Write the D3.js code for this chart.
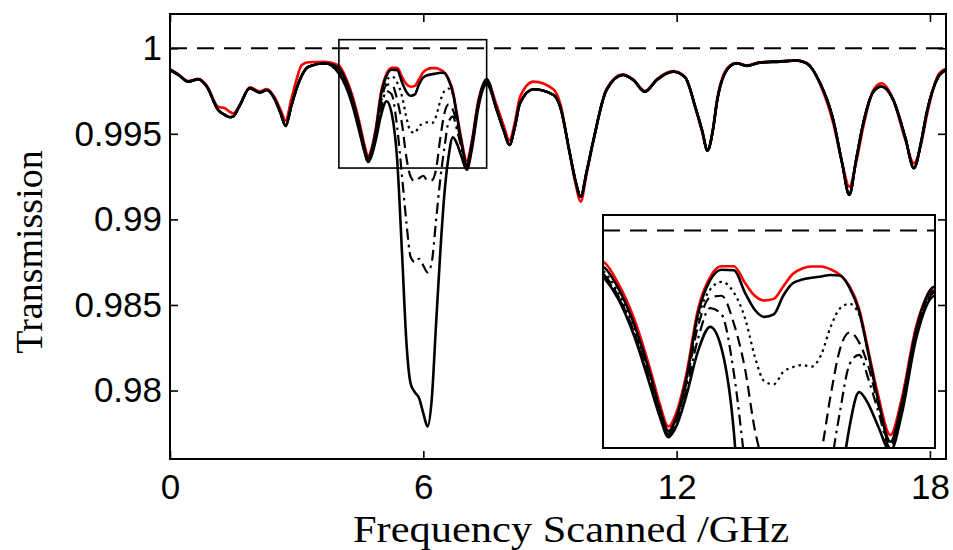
<!DOCTYPE html>
<html>
<head>
<meta charset="utf-8">
<script src="https://cdn.jsdelivr.net/npm/d3@7"></script>
<style>
body { margin: 0; background: #fff; }
</style>
</head>
<body>
<svg id="chart" width="953" height="550"></svg>
<script>
// Transmission scan data

// frequencies (GHz) outside the zoomed window
var freq = [0, 0.2, 0.43, 0.67, 0.87, 1.14, 1.3, 1.42, 1.5, 1.66,
    1.89, 2.13, 2.29, 2.49, 2.62, 2.74, 2.87, 3.0, 3.12, 3.28, 3.67,
    7.74, 7.9, 8.04, 8.17, 8.29, 8.61, 9.08, 9.24, 9.47, 9.6,
    9.73, 9.86, 10.03, 10.34, 10.73, 10.97, 11.25, 11.53, 11.92, 12.2,
    12.45, 12.6, 12.73, 12.86, 12.95, 13.22, 13.42, 13.66, 13.97, 14.45,
    14.84, 15.08, 15.4, 15.71, 15.92, 16.09, 16.25, 16.42, 16.66, 16.85,
    17.13, 17.41, 17.62, 17.8, 17.92, 18.2, 18.38];

// black traces share this outside the window
var baseTrace = [0.99873, 0.99844, 0.99805, 0.99819, 0.99776, 0.99639, 0.99610, 0.99597, 0.99602, 0.99669,
    0.99766, 0.99741, 0.99756, 0.99698, 0.99620, 0.99546, 0.99659, 0.99766, 0.99840, 0.99892, 0.99912,
    0.99639, 0.99523, 0.99435, 0.99542, 0.99679, 0.99760, 0.99727, 0.99659, 0.99386, 0.99230,
    0.99133, 0.99270, 0.99464, 0.99756, 0.99844, 0.99815, 0.99746, 0.99815, 0.99863, 0.99830,
    0.99650, 0.99523, 0.99402, 0.99523, 0.99679, 0.99883, 0.99912, 0.99897, 0.99916, 0.99922,
    0.99928, 0.99912, 0.99795, 0.99581, 0.99328, 0.99143, 0.99347, 0.99562, 0.99746, 0.99776,
    0.99698, 0.99483, 0.99299, 0.99464, 0.99620, 0.99834, 0.99873];

// red reference trace outside the window
var refTrace = [0.99878, 0.99848, 0.99808, 0.99822, 0.99782, 0.99658, 0.99649, 0.99628, 0.99620, 0.99672,
    0.99772, 0.99748, 0.99762, 0.99708, 0.99640, 0.99578, 0.99700, 0.99820, 0.99902, 0.99918, 0.99920,
    0.99665, 0.99550, 0.99462, 0.99570, 0.99715, 0.99805, 0.99760, 0.99680, 0.99380, 0.99215,
    0.99104, 0.99255, 0.99460, 0.99762, 0.99848, 0.99818, 0.99750, 0.99818, 0.99866, 0.99832,
    0.99645, 0.99515, 0.99410, 0.99530, 0.99690, 0.99890, 0.99914, 0.99900, 0.99918, 0.99924,
    0.99929, 0.99914, 0.99790, 0.99560, 0.99330, 0.99191, 0.99330, 0.99540, 0.99755, 0.99795,
    0.99700, 0.99470, 0.99328, 0.99450, 0.99600, 0.99845, 0.99880];

// zoomed window 4 - 7.5 GHz
var winFreq = [4.0, 4.16, 4.32, 4.5, 4.6, 4.69, 4.78, 4.88, 5.0, 5.13,
    5.25, 5.38, 5.5, 5.6, 5.7, 5.8, 5.9, 6.0, 6.1, 6.2,
    6.3, 6.4, 6.5, 6.6, 6.7, 6.8, 6.9, 7.03, 7.15, 7.3, 7.5];

var winRef = [0.99900, 0.99830, 0.99723, 0.99551, 0.99440, 0.99369, 0.99420, 0.99540, 0.99744, 0.99851,
    0.99885, 0.99885, 0.99830, 0.99790, 0.99775, 0.99780, 0.99820, 0.99860, 0.99878, 0.99884,
    0.99884, 0.99875, 0.99857, 0.99820, 0.99748, 0.99610, 0.99470, 0.99342, 0.99460, 0.99690, 0.99809];

var winSolidA = [0.99884, 0.99815, 0.99705, 0.99535, 0.99425, 0.99355, 0.99405, 0.99525, 0.99730, 0.99840,
    0.99874, 0.99872, 0.99798, 0.99745, 0.99722, 0.99730, 0.99790, 0.99830, 0.99842, 0.99848,
    0.99852, 0.99857, 0.99855, 0.99815, 0.99740, 0.99600, 0.99455, 0.99320, 0.99445, 0.99680, 0.99820];

var winDotted = [0.99870, 0.99800, 0.99690, 0.99525, 0.99415, 0.99350, 0.99400, 0.99520, 0.99715, 0.99810,
    0.99835, 0.99800, 0.99715, 0.99595, 0.99515, 0.99505, 0.99545, 0.99560, 0.99567, 0.99562,
    0.99600, 0.99690, 0.99750, 0.99764, 0.99730, 0.99600, 0.99450, 0.99315, 0.99440, 0.99675, 0.99815];

var winDashed = [0.99862, 0.99790, 0.99680, 0.99515, 0.99410, 0.99345, 0.99395, 0.99510, 0.99690, 0.99785,
    0.99790, 0.99700, 0.99550, 0.99360, 0.99250, 0.99222, 0.99240, 0.99255, 0.99225, 0.99228,
    0.99290, 0.99470, 0.99620, 0.99672, 0.99640, 0.99560, 0.99440, 0.99310, 0.99430, 0.99665, 0.99805];

var winDashDot = [0.99858, 0.99785, 0.99675, 0.99505, 0.99405, 0.99340, 0.99385, 0.99490, 0.99650, 0.99750,
    0.99730, 0.99540, 0.99240, 0.98980, 0.98780, 0.98750, 0.98770, 0.98730, 0.98690, 0.98750,
    0.98990, 0.99230, 0.99420, 0.99570, 0.99600, 0.99520, 0.99420, 0.99300, 0.99420, 0.99660, 0.99800];

var winSolidB = [0.99852, 0.99780, 0.99668, 0.99498, 0.99400, 0.99335, 0.99375, 0.99470, 0.99610, 0.99690,
    0.99620, 0.99350, 0.98780, 0.98280, 0.98040, 0.97990, 0.97955, 0.97867, 0.97790, 0.97950,
    0.98380, 0.98800, 0.99150, 0.99370, 0.99480, 0.99440, 0.99370, 0.99290, 0.99410, 0.99650, 0.99790];

var xTicks = [0, 6, 12, 18];
var yTicks = [0.98, 0.985, 0.99, 0.995, 1];
var yTickLabels = ["0.98", "0.985", "0.99", "0.995", "1"];
var xDomain = [0, 18.38];
var yDomain = [0.976, 1.002];
var zoomFreq = [4, 7.5];
var zoomTrans = [0.993, 1.0005];
var unity = 1;


(function(d3) {

    var svg = d3.select("#chart");

    var plot = { left: 170, right: 946, top: 14, bottom: 459 };
    var inset = { left: 603, right: 935, top: 215, bottom: 448 };

    var x = d3.scaleLinear().domain(xDomain).range([plot.left, plot.right]);
    var y = d3.scaleLinear().domain(yDomain).range([plot.bottom, plot.top]);

    var xi = d3.scaleLinear().domain(zoomFreq).range([inset.left, inset.right]);
    var yi = d3.scaleLinear().domain(zoomTrans).range([inset.bottom, inset.top]);

    // stitch window values into the shared outside part
    var buildSeries = function(outside, win) {
        var pts = freq.map(function(f, i) { return { f: f, v: outside[i] }; });
        win.forEach(function(v, i) { pts.push({ f: winFreq[i], v: v }); });
        return pts.sort(function(a, b) { return a.f - b.f; });
    };

    var series = [
        { key: "ref", pts: buildSeries(refTrace, winRef), color: "#ff0000", dash: null },
        { key: "solidA", pts: buildSeries(baseTrace, winSolidA), color: "#000", dash: null },
        { key: "dotted", pts: buildSeries(baseTrace, winDotted), color: "#000", dash: "2.5,4" },
        { key: "dashed", pts: buildSeries(baseTrace, winDashed), color: "#000", dash: "11,6" },
        { key: "dashdot", pts: buildSeries(baseTrace, winDashDot), color: "#000", dash: "11,5,2.5,5" },
        { key: "solidB", pts: buildSeries(baseTrace, winSolidB), color: "#000", dash: null }
    ];

    var defs = svg.append("defs");
    defs.append("clipPath").attr("id", "clipMain")
        .append("rect")
        .attr("x", plot.left).attr("y", plot.top)
        .attr("width", plot.right - plot.left).attr("height", plot.bottom - plot.top);
    defs.append("clipPath").attr("id", "clipInset")
        .append("rect")
        .attr("x", inset.left).attr("y", inset.top)
        .attr("width", inset.right - inset.left).attr("height", inset.bottom - inset.top);

    var drawTraces = function(g, xs, ys) {
        var line = d3.line()
            .x(function(d) { return xs(d.f); })
            .y(function(d) { return ys(d.v); })
            .curve(d3.curveMonotoneX);

        g.append("line")
            .attr("x1", xs.range()[0]).attr("x2", xs.range()[1])
            .attr("y1", ys(unity)).attr("y2", ys(unity))
            .attr("stroke", "#000")
            .attr("stroke-width", 2)
            .attr("stroke-dasharray", "17,10");

        g.selectAll("path.trace")
            .data(series)
            .enter()
            .append("path")
            .attr("class", "trace")
            .attr("d", function(d) { return line(d.pts); })
            .attr("fill", "none")
            .attr("stroke", function(d) { return d.color; })
            .attr("stroke-width", function(d) { return d.dash ? 2.2 : 2.6; })
            .attr("stroke-linejoin", "round")
            .attr("stroke-dasharray", function(d) { return d.dash; });
    };

    // main traces
    var mainG = svg.append("g").attr("clip-path", "url(#clipMain)");
    drawTraces(mainG, x, y);

    // zoom box marker
    svg.append("rect")
        .attr("x", x(zoomFreq[0]))
        .attr("y", y(zoomTrans[1]))
        .attr("width", x(zoomFreq[1]) - x(zoomFreq[0]))
        .attr("height", y(zoomTrans[0]) - y(zoomTrans[1]))
        .attr("fill", "none")
        .attr("stroke", "#000")
        .attr("stroke-width", 1.6);

    // axes with inward ticks on all four sides
    var tickStyle = function(g) {
        g.select(".domain").remove();
        g.selectAll(".tick line").attr("stroke", "#000").attr("stroke-width", 1.6);
        g.selectAll("text")
            .attr("fill", "#000")
            .style("font-family", "'Liberation Sans', Arial, sans-serif")
            .style("font-size", "35px");
    };

    svg.append("g")
        .attr("transform", "translate(0," + plot.bottom + ")")
        .call(d3.axisBottom(x).tickValues(xTicks).tickSize(-8).tickPadding(15))
        .call(tickStyle);

    svg.append("g")
        .attr("transform", "translate(0," + plot.top + ")")
        .call(d3.axisTop(x).tickValues(xTicks).tickSize(-8).tickFormat(""))
        .call(tickStyle);

    svg.append("g")
        .attr("transform", "translate(" + plot.left + ",0)")
        .call(d3.axisLeft(y).tickValues(yTicks).tickSize(-8).tickPadding(8)
            .tickFormat(function(d, i) { return yTickLabels[i]; }))
        .call(tickStyle);

    svg.append("g")
        .attr("transform", "translate(" + plot.right + ",0)")
        .call(d3.axisRight(y).tickValues(yTicks).tickSize(-8).tickFormat(""))
        .call(tickStyle);

    svg.append("rect")
        .attr("x", plot.left).attr("y", plot.top)
        .attr("width", plot.right - plot.left).attr("height", plot.bottom - plot.top)
        .attr("fill", "none")
        .attr("stroke", "#000")
        .attr("stroke-width", 2);

    // inset
    svg.append("rect")
        .attr("x", inset.left).attr("y", inset.top)
        .attr("width", inset.right - inset.left).attr("height", inset.bottom - inset.top)
        .attr("fill", "#fff");

    var insetG = svg.append("g").attr("clip-path", "url(#clipInset)");
    drawTraces(insetG, xi, yi);

    svg.append("rect")
        .attr("x", inset.left).attr("y", inset.top)
        .attr("width", inset.right - inset.left).attr("height", inset.bottom - inset.top)
        .attr("fill", "none")
        .attr("stroke", "#000")
        .attr("stroke-width", 2);

    // axis titles
    svg.append("text")
        .attr("x", 571)
        .attr("y", 542)
        .attr("text-anchor", "middle")
        .attr("textLength", 436)
        .attr("lengthAdjust", "spacingAndGlyphs")
        .style("font-family", "'Liberation Serif', 'Times New Roman', serif")
        .style("font-size", "37px")
        .text("Frequency Scanned /GHz");

    svg.append("text")
        .attr("transform", "translate(42,252) rotate(-90)")
        .attr("text-anchor", "middle")
        .style("font-family", "'Liberation Serif', 'Times New Roman', serif")
        .style("font-size", "38px")
        .text("Transmission");

})(d3);
</script>
</body>
</html>
